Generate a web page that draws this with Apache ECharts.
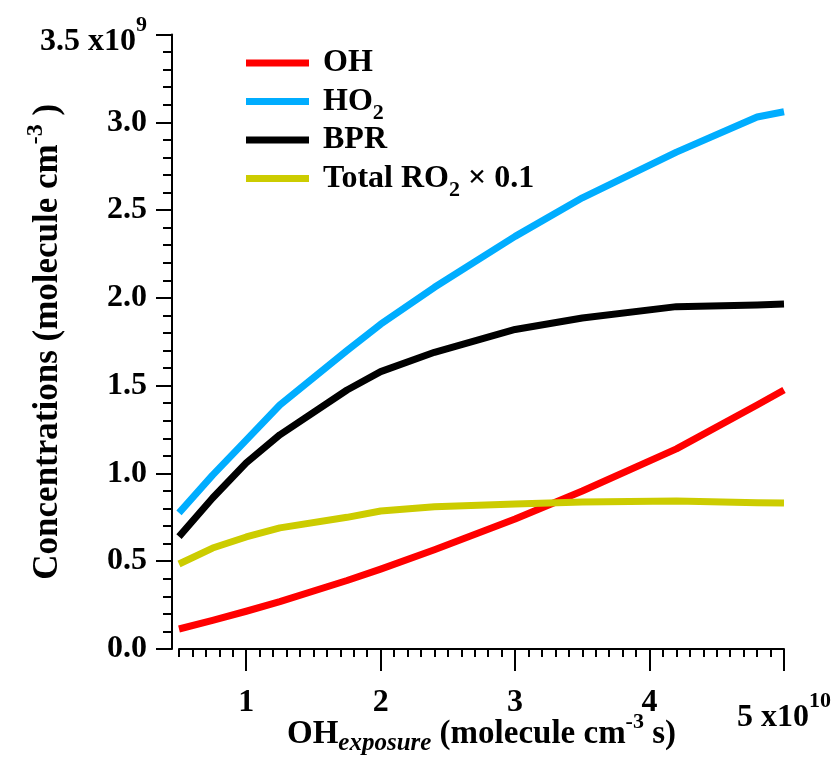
<!DOCTYPE html>
<html><head><meta charset="utf-8">
<script src="https://cdn.jsdelivr.net/npm/echarts@6/dist/echarts.min.js"></script>
<style>html,body{margin:0;padding:0;background:#fff}#c{width:837px;height:772px}</style>
</head><body><div id="c"></div>
<script>
// x: OH exposure (×1e10 molecule cm^-3 s); y: concentrations (×1e9 molecule cm^-3)
const xExposure = [0.5, 0.75, 1.0, 1.25, 1.75, 2.0, 2.4, 3.0, 3.5, 4.2, 4.8, 5.0];
const ohConc  = [0.114, 0.163, 0.215, 0.27, 0.39, 0.455, 0.565, 0.74, 0.90, 1.14, 1.39, 1.475];
const ho2Conc = [0.775, 0.99, 1.19, 1.39, 1.70, 1.85, 2.06, 2.35, 2.57, 2.83, 3.03, 3.06];
const bprConc = [0.64, 0.86, 1.06, 1.22, 1.475, 1.58, 1.69, 1.82, 1.885, 1.95, 1.96, 1.965];
const ro2Conc = [0.484, 0.575, 0.638, 0.69, 0.75, 0.786, 0.81, 0.826, 0.837, 0.843, 0.833, 0.831];
const seriesNames = ['OH', 'HO2', 'BPR', 'Total RO2 × 0.1'];
const legendLabels = ['OH{sub| }', 'HO{sub|2}', 'BPR{sub| }', 'Total RO{sub|2} × 0.1'];
const seriesColors = ['#ff0000', '#00adff', '#000000', '#cccc00'];
const xTicks = [1, 2, 3, 4, 5];
const xTickLabels = ['1', '2', '3', '4', '{m|5 x10}{s|10}'];
const yTicks = [0, 0.5, 1.0, 1.5, 2.0, 2.5, 3.0, 3.5];
const yTickLabels = ['0.0', '0.5', '1.0', '1.5', '2.0', '2.5', '3.0', '{m|3.5 x10}{s|9}'];
const xTitle = '{b|OH}{sub|exposure}{b| (molecule cm}{sup|-3}{b| s)}';
const yTitle = '{b|Concentrations (molecule cm}{sup|-3}{b| )}';

const FF = "'Liberation Serif','Times New Roman',serif";
const base = {fontFamily: FF, fontWeight: 'bold', color: '#000'};
const valueLists = [ohConc, ho2Conc, bprConc, ro2Conc];

const chart = echarts.init(document.getElementById('c'), null, {renderer: 'canvas'});
const axisLineStyle = {color: '#000', width: 2};
const tickRich = {
  m: Object.assign({}, base, {fontSize: 32, padding: [15, 0, 0, 0]}),
  s: Object.assign({}, base, {fontSize: 22, padding: [0, 0, 18, 0]})
};
function titleRich(fs) {
  return {
    b: Object.assign({}, base, {fontSize: fs}),
    sub: Object.assign({}, base, {fontSize: Math.round(fs * 0.75), fontStyle: 'italic', padding: [20, 0, 0, 0]}),
    sup: Object.assign({}, base, {fontSize: Math.round(fs * 0.68), padding: [0, 0, 24, 0]})
  };
}

chart.setOption({
  animation: false,
  backgroundColor: '#fff',
  grid: {left: 179, right: 53, top: 34.5, bottom: 123, containLabel: false, outerBoundsMode: 'none'},
  legend: {
    orient: 'vertical', left: 246, top: 40, padding: 0,
    itemWidth: 63, itemHeight: 7, itemGap: -7.5, icon: 'rect',
    data: seriesNames,
    formatter: function (name) { return legendLabels[seriesNames.indexOf(name)]; },
    textStyle: Object.assign({}, base, {fontSize: 32, padding: [0, 0, 0, 9], lineHeight: 37,
      rich: {sub: Object.assign({}, base, {fontSize: 22, lineHeight: 12, padding: [24, 0, 0, 0]})}})
  },
  xAxis: [
    {
      type: 'value', position: 'bottom', min: 0.5, max: 5, interval: 0.1, offset: 6,
      axisLine: {show: true, lineStyle: axisLineStyle},
      axisTick: {show: true, length: 8, lineStyle: axisLineStyle},
      axisLabel: {show: false}, splitLine: {show: false},
      name: xTitle, nameLocation: 'middle', nameGap: 56, nameMoveOverlap: false,
      nameTextStyle: Object.assign({}, base, {fontSize: 33, rich: titleRich(33)})
    },
    {
      type: 'value', position: 'bottom', min: 0.5, max: 5, offset: 6,
      axisLine: {show: false},
      axisTick: {show: true, length: 16, customValues: xTicks, lineStyle: axisLineStyle},
      axisLabel: {show: true, customValues: xTicks, margin: 32,
        formatter: function (v) { return xTickLabels[xTicks.indexOf(Math.round(v))]; },
        fontFamily: FF, fontWeight: 'bold', fontSize: 32, color: '#000', rich: tickRich},
      splitLine: {show: false}
    }
  ],
  yAxis: {
    type: 'value', min: 0, max: 3.5, interval: 0.5, offset: 7,
    axisLine: {show: true, lineStyle: axisLineStyle},
    axisTick: {show: true, length: 16, lineStyle: axisLineStyle},
    minorTick: {show: true, splitNumber: 5, length: 9, lineStyle: axisLineStyle},
    splitLine: {show: false}, minorSplitLine: {show: false},
    axisLabel: {margin: 25,
      formatter: function (v) { return yTickLabels[yTicks.indexOf(Math.round(v * 2) / 2)]; },
      fontFamily: FF, fontWeight: 'bold', fontSize: 32, color: '#000', rich: tickRich},
    name: yTitle, nameLocation: 'middle', nameRotate: 90, nameGap: 100, nameMoveOverlap: false,
    nameTextStyle: Object.assign({}, base, {fontSize: 35, rich: titleRich(35)})
  },
  series: seriesNames.map(function (n, k) {
    return {
      name: n, type: 'line', xAxisIndex: 0, showSymbol: false, symbol: 'none',
      itemStyle: {color: seriesColors[k]},
      lineStyle: {color: seriesColors[k], width: 7, join: 'round'},
      data: xExposure.map(function (x, i) { return [x, valueLists[k][i]]; }),
      z: 2 + k
    };
  })
});
</script></body></html>
